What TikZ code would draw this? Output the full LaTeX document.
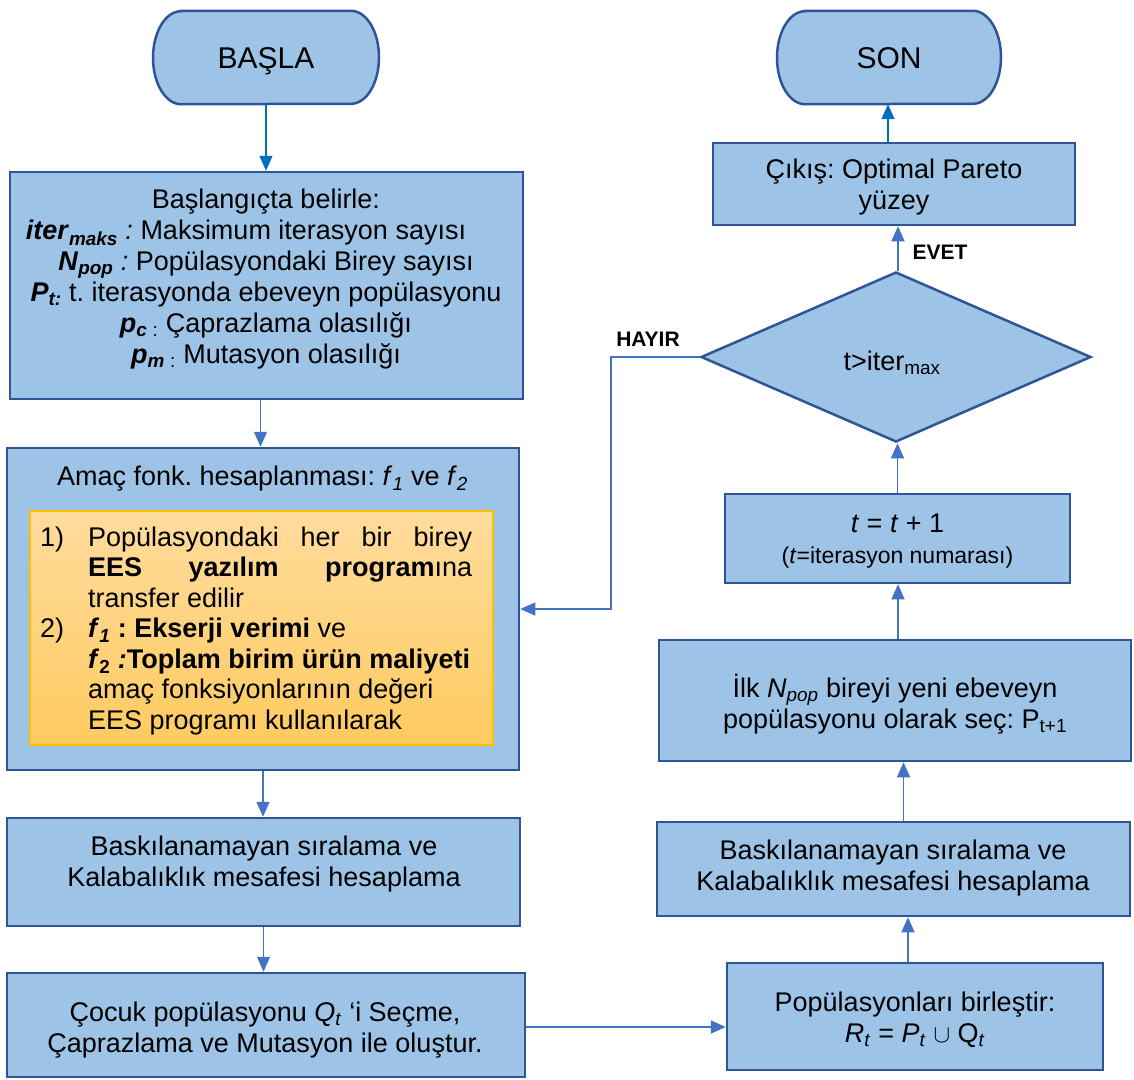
\documentclass[tikz,border=0pt]{standalone}
\usepackage{fontspec}
\setmainfont{Liberation Sans}
\usetikzlibrary{shapes.geometric,arrows.meta,backgrounds}
\definecolor{bfill}{HTML}{9DC3E6}
\definecolor{bdr}{HTML}{2F5597}
\definecolor{arrc}{HTML}{4472C4}
\definecolor{arrd}{HTML}{0070C0}
\definecolor{orgt}{HTML}{FFDC9E}
\definecolor{orgbt}{HTML}{FFCB60}
\definecolor{orgb}{HTML}{FFC000}
\newcommand\fbody{\fontsize{27}{31}\selectfont}
\newcommand\bsub[1]{\textsubscript{\textbf{\textit{#1}}}}
\newcommand\isub[1]{\textsubscript{\textit{#1}}}
\frenchspacing
\begin{document}
\begin{tikzpicture}[x=1pt,y=-1pt,
  box/.style={draw=bdr, fill=bfill, line width=2.5pt, inner sep=0pt},
  termbox/.style={draw=bdr, fill=bfill, line width=2.5pt},
  termtxt/.style={font=\fontsize{30}{34}\selectfont, inner sep=0pt, text height=21.5pt, text depth=0pt},
  txt/.style={font=\fbody, align=center, inner sep=0pt, text=black},
  arr/.style={draw=arrc, line width=1.4pt, -{Triangle[length=15pt,width=13pt]}},
  arrb/.style={arr, draw=arrd},
  lbl/.style={font=\fontsize{21}{24}\selectfont\bfseries, inner sep=0pt}]
\begin{scope}[on background layer]
\fill[white] (0,0) rectangle (1134,1079);
\end{scope}
\useasboundingbox (0,0) rectangle (1134,1079);

% terminators
\node[termtxt, minimum width=226pt, minimum height=93pt] (basla) at (266,57.5) {BAŞLA};
\node[termtxt, minimum width=224pt, minimum height=93pt] (son) at (889,57.5) {SON};
\begin{scope}[on background layer]
\draw[termbox] ([xshift=-85pt]basla.north) -- ([xshift=85pt]basla.north)
  arc[start angle=90,end angle=-90,x radius=28pt,y radius=46.5pt]
  -- ([xshift=-85pt]basla.south)
  arc[start angle=270,end angle=90,x radius=28pt,y radius=46.5pt] -- cycle;
\draw[termbox] ([xshift=-84pt]son.north) -- ([xshift=84pt]son.north)
  arc[start angle=90,end angle=-90,x radius=28pt,y radius=46.5pt]
  -- ([xshift=-84pt]son.south)
  arc[start angle=270,end angle=90,x radius=28pt,y radius=46.5pt] -- cycle;
\end{scope}

% left column
\node[box, minimum width=513pt, minimum height=227pt] (init) at (266.5,285.5) {};
\node[txt] (initt) at (266,279.5) {Başlangıçta belirle:\\
\textbf{\textit{iter}}\bsub{maks}\textit{ :} Maksimum iterasyon sayısı\makebox[40pt]{}\\
\textbf{\textit{N}}\bsub{pop}\textit{ :} Popülasyondaki Birey sayısı\\
\textbf{\textit{P}}\bsub{t:} t. iterasyonda ebeveyn popülasyonu\\
\textbf{\textit{p}}\bsub{c}\textsubscript{ :} Çaprazlama olasılığı\\
\textbf{\textit{p}}\bsub{m}\textsubscript{ :} Mutasyon olasılığı};

\node[box, minimum width=512pt, minimum height=322pt] (amac) at (263,609) {};
\node[txt] (amact) at (262.5,479) {Amaç fonk. hesaplanması: \textit{f}\isub{1} ve \textit{f}\isub{2}};
\node[draw=orgb, line width=1.5pt, top color=orgt, bottom color=orgbt, minimum width=463pt, minimum height=234pt, inner sep=0pt] (inbox) at (261.5,628) {};
\node[txt, align=left, font=\fontsize{27}{30.5}\selectfont, anchor=west] (intext) at (40,631) {%
\makebox[48pt][l]{1)}\makebox[384pt][s]{Popülasyondaki her bir birey}\\
\hspace*{48pt}\makebox[384pt][s]{\textbf{EES yazılım program}ına}\\
\hspace*{48pt}transfer edilir\\
\makebox[48pt][l]{2)}\textbf{\textit{f}\textsubscript{\textit{1}} : Ekserji verimi} ve\\
\hspace*{48pt}\textbf{\textit{f}\textsubscript{2}\textit{ :}Toplam birim ürün maliyeti}\\
\hspace*{48pt}amaç fonksiyonlarının değeri\\
\hspace*{48pt}EES programı kullanılarak};

\node[box, minimum width=513pt, minimum height=108pt] (bask1) at (263.5,872) {};
\node[txt] (bask1t) at (264,864) {Baskılanamayan sıralama ve\\Kalabalıklık mesafesi hesaplama};

\node[box, minimum width=518pt, minimum height=104pt] (cocuk) at (266,1025) {};
\node[txt] (cocukt) at (265,1030) {Çocuk popülasyonu \textit{Q}\isub{t} ‘i Seçme,\\Çaprazlama ve Mutasyon ile oluştur.};

% right column
\node[box, minimum width=376pt, minimum height=107pt] (birles) at (915,1016.5) {};
\node[txt] (birlest) at (915,1020) {Popülasyonları birleştir:\\\textit{R}\isub{t} = \textit{P}\isub{t} $\cup$ Q\isub{t}};

\node[box, minimum width=473pt, minimum height=94pt] (bask2) at (893.5,869) {};
\node[txt] (bask2t) at (893,868) {Baskılanamayan sıralama ve\\Kalabalıklık mesafesi hesaplama};

\node[box, minimum width=472pt, minimum height=121pt] (ilk) at (895,700.5) {};
\node[txt] (ilkt) at (895,704) {İlk \textit{N}\isub{pop} bireyi yeni ebeveyn\\popülasyonu olarak seç: P\textsubscript{t+1}};

\node[box, minimum width=345pt, minimum height=89pt] (tinc) at (897.5,538.5) {};
\node[txt] (tinct) at (897.5,541) {\textit{t} = \textit{t} + 1\\{\fontsize{23}{27}\selectfont(\textit{t}=iterasyon numarası)}};

\node[box, diamond, minimum width=390pt, minimum height=170pt] (dia) at (896,357) {};
\node[txt] (diat) at (892,363) {t>iter\textsubscript{max}};

\node[box, minimum width=362pt, minimum height=82pt] (cikis) at (894,184) {};
\node[txt] (cikist) at (894,187) {Çıkış: Optimal Pareto\\yüzey};

% connectors
\draw[arrb] (basla.south) -- (init.north -| basla.south);
\draw[arr] ([xshift=-6pt]init.south) -- ([xshift=-6pt]init.south |- amac.north);
\draw[arr] (amac.south) -- (amac.south |- bask1.north);
\draw[arr] (bask1.south) -- (bask1.south |- cocuk.north);
\draw[arr] ([yshift=-2pt]cocuk.east) -- ([yshift=-2pt]cocuk.east -| birles.west);
\draw[arr] ([xshift=-7pt]birles.north) -- ([xshift=-7pt]birles.north |- bask2.south);
\draw[arr] ([xshift=10pt]bask2.north) -- ([xshift=10pt]bask2.north |- ilk.south);
\draw[arr] ([xshift=3pt]ilk.north) -- ([xshift=3pt]ilk.north |- tinc.south);
\draw[arr] (tinc.north) -- (tinc.north |- dia.south);
\draw[arr] ([xshift=2pt]dia.north) -- ([xshift=2pt]dia.north |- cikis.south);
\draw[arrb] ([xshift=-6pt]cikis.north) -- ([xshift=-6pt]cikis.north |- son.south);
\coordinate (hb) at (611,357);
\draw[arr] (dia.west) -- (hb) |- (amac.east);

\node[lbl] (hayir) at (648,339) {HAYIR};
\node[lbl] (evet) at (940,252) {EVET};
\end{tikzpicture}
\end{document}
